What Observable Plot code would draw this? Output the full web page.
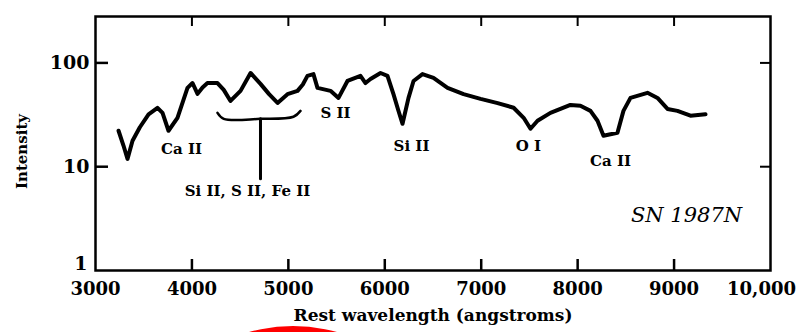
<!DOCTYPE html>
<html>
<head>
<meta charset="utf-8">
<script src="https://cdn.jsdelivr.net/npm/d3@7"></script>
<script src="https://cdn.jsdelivr.net/npm/@observablehq/plot@0.6"></script>
<style>
  html, body { margin: 0; padding: 0; background: #fff; }
  #wrap { position: relative; width: 800px; height: 332px; overflow: hidden; background: #fff; }
  #blob { position: absolute; left: 129px; top: 326px; width: 328px; height: 328px; border-radius: 50%; background: #f00; }
</style>
</head>
<body>
<div id="wrap"><div id="chart"></div><div id="blob"></div></div>
<script>
// Spectrum of SN 1987N
const wavelength = [3239, 3290, 3332, 3384, 3460, 3550, 3643, 3695, 3757, 3850, 3954, 4006, 4058, 4110, 4161, 4265, 4330, 4400, 4504, 4608, 4711, 4800, 4888, 4991, 5095, 5150, 5198, 5260, 5302, 5437, 5520, 5613, 5748, 5800, 5852, 5956, 6028, 6090, 6140, 6184, 6246, 6298, 6391, 6505, 6651, 6817, 6993, 7170, 7336, 7440, 7511, 7584, 7718, 7925, 8029, 8133, 8206, 8268, 8413, 8475, 8548, 8724, 8828, 8932, 9035, 9170, 9326];
const intensity  = [22.2, 16, 11.9, 17.8, 24, 32, 36.9, 33, 22.2, 29.6, 57.5, 64, 50.3, 58, 64, 64, 55, 43, 53.8, 80, 62.8, 50, 41.2, 50, 53.8, 62, 75, 78, 57.5, 53.8, 46, 67, 75, 64, 70, 80, 75, 50, 35, 25.9, 46, 67, 78, 71.7, 57.5, 50, 45, 41, 37, 29.6, 23.2, 27.7, 33, 39.4, 38.6, 34.5, 27.7, 19.9, 21.2, 34.5, 46, 51.5, 46, 36, 34.5, 31, 32];

// Line identifications
const labelText = ["Ca II", "Si II, S II, Fe II", "S II", "Si II", "O I", "Ca II"];
const labelX    = [3892, 4576, 5489, 6277, 7490, 8341];
const labelY    = [14.9, 5.75, 33.0, 15.6, 15.9, 11.4];

// Bracket for the blended feature
const bracketX = [4265, 4330, 4711, 5053, 5126];
const bracketY = [33, 28.9, 28.9, 30.3, 34.5];
const stemX = [4711, 4711];
const stemY = [28.9, 7.67];

// Axes
const xTicks = [3000, 4000, 5000, 6000, 7000, 8000, 9000];
const xLastTick = [10000];
const xInnerTicks = [4000, 5000, 6000, 7000, 8000, 9000];
const yTicks = [10, 100];
const yLowTick = [1];
const yInnerTicks = [10, 100];
const xTitle = "Rest wavelength (angstroms)";
const yTitle = "Intensity";
const objectName = "SN 1987N";

const spectrum = wavelength.map((w, i) => ({w, v: intensity[i]}));
const labels = labelText.map((t, i) => ({t, x: labelX[i], y: labelY[i]}));
const bracket = bracketX.map((x, i) => ({x, y: bracketY[i]}));
const stem = stemX.map((x, i) => ({x, y: stemY[i]}));

const serif = "DejaVu Serif";
const fmt = d => d === 10000 ? "10,000" : String(d);

const chart = Plot.plot({
  width: 800,
  height: 332,
  marginLeft: 95,
  marginRight: 30,
  marginTop: 16,
  marginBottom: 62,
  style: {fontFamily: serif, fontWeight: "bold", color: "#000", background: "#fff"},
  x: {domain: [3000, 10000]},
  y: {type: "log", domain: [1, 280]},
  marks: [
    Plot.frame({stroke: "#000", strokeWidth: 2.5}),
    // inward tick marks
    Plot.tickX(xInnerTicks, {x: d => d, insetTop: 243, stroke: "#000", strokeWidth: 2.5}),
    Plot.tickX(xInnerTicks, {x: d => d, insetBottom: 244, stroke: "#000", strokeWidth: 2}),
    Plot.tickY(yInnerTicks, {y: d => d, insetRight: 662, stroke: "#000", strokeWidth: 2.5}),
    Plot.tickY(yInnerTicks, {y: d => d, insetLeft: 665, stroke: "#000", strokeWidth: 2}),
    // tick labels
    Plot.axisX({ticks: xTicks, tickSize: 0, tickPadding: 12, tickFormat: fmt, fontSize: 18, label: null}),
    Plot.axisX({ticks: xLastTick, tickSize: 0, tickPadding: 12, tickFormat: fmt, fontSize: 18, dx: -9, label: null}),
    Plot.axisY({ticks: yTicks, tickSize: 0, tickPadding: 6, tickFormat: d => String(d), fontSize: 19, label: null}),
    Plot.axisY({ticks: yLowTick, tickSize: 0, tickPadding: 8, tickFormat: d => String(d), fontSize: 19, dy: -7, label: null}),
    // titles
    Plot.text([xTitle], {frameAnchor: "bottom", dy: 50, fontSize: 17, fontWeight: "bold"}),
    Plot.text([yTitle], {frameAnchor: "left", textAnchor: "middle", dx: -73, dy: 8, rotate: -90, fontSize: 15, fontWeight: "bold"}),
    // spectrum
    Plot.line(spectrum, {x: "w", y: "v", stroke: "#000", strokeWidth: 4, strokeLinejoin: "round", strokeLinecap: "round"}),
    // bracket
    Plot.line(bracket, {x: "x", y: "y", stroke: "#000", strokeWidth: 2.5, curve: "catmull-rom"}),
    Plot.line(stem, {x: "x", y: "y", stroke: "#000", strokeWidth: 3}),
    // line labels
    Plot.text(labels, {x: "x", y: "y", text: "t", fontSize: 15, fontWeight: "bold"}),
    Plot.text([objectName], {x: [9129], y: [3.38], fontSize: 21, fontStyle: "italic", fontWeight: "normal"})
  ]
});
document.getElementById("chart").appendChild(chart);
</script>
</body>
</html>
